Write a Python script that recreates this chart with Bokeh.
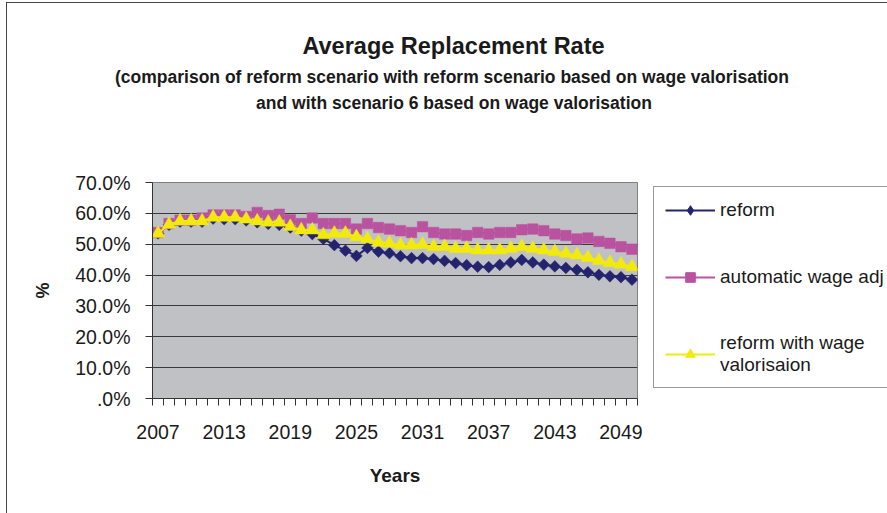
from bokeh.plotting import figure
from bokeh.models import Range1d, FixedTicker, Legend, LegendItem, Label
from bokeh.layouts import column, row
from bokeh.embed import file_html
from bokeh.resources import INLINE
import numpy as np

# ---- data (percent) ----
years = [2007, 2008, 2009, 2010, 2011, 2012, 2013, 2014, 2015, 2016, 2017,
         2018, 2019, 2020, 2021, 2022, 2023, 2024, 2025, 2026, 2027, 2028,
         2029, 2030, 2031, 2032, 2033, 2034, 2035, 2036, 2037, 2038, 2039,
         2040, 2041, 2042, 2043, 2044, 2045, 2046, 2047, 2048, 2049, 2050]

reform = [53.5, 56.3, 57.3, 57.3, 57.3, 58.3, 58.1, 58.1, 57.7, 57.1, 56.6,
          56.3, 55.4, 54.4, 53.3, 51.7, 49.7, 47.9, 46.2, 48.8, 47.6, 47.1,
          46.1, 45.5, 45.5, 45.2, 44.6, 43.9, 43.2, 42.7, 42.6, 43.3, 44.1,
          44.9, 44.1, 43.4, 42.8, 42.3, 41.7, 40.9, 40.1, 39.6, 39.3, 38.5]

automatic_wage_adj = [53.8, 56.7, 57.8, 57.8, 58.5, 59.5, 59.5, 59.5, 59.0, 60.3, 59.3,
                      59.7, 57.9, 56.7, 58.5, 56.7, 56.7, 56.7, 54.9, 56.7, 55.4, 54.9,
                      54.4, 53.8, 55.7, 53.8, 53.3, 53.3, 52.8, 53.8, 53.3, 53.8, 53.8,
                      54.7, 54.9, 54.4, 53.3, 52.8, 51.7, 52.0, 50.9, 50.3, 49.2, 48.4]

reform_wage_valorisation = [53.5, 56.4, 57.5, 57.5, 57.5, 58.7, 58.7, 58.7, 58.1, 57.5, 57.1,
                            57.1, 55.7, 54.6, 54.6, 53.0, 53.5, 53.5, 52.4, 51.7, 50.6, 50.3,
                            49.7, 49.7, 49.9, 49.2, 49.2, 48.6, 48.6, 48.1, 48.1, 48.1, 48.6,
                            49.2, 48.6, 48.1, 47.6, 47.0, 46.5, 45.7, 44.7, 44.0, 43.5, 42.7]

series_labels = ["reform", "automatic wage adj", "reform with wage\nvalorisaion"]

y_ticks = [0, 10, 20, 30, 40, 50, 60, 70]
y_tick_labels = [".0%", "10.0%", "20.0%", "30.0%", "40.0%", "50.0%", "60.0%", "70.0%"]
x_tick_years = [2007, 2013, 2019, 2025, 2031, 2037, 2043, 2049]
x_tick_labels = ["2007", "2013", "2019", "2025", "2031", "2037", "2043", "2049"]

title_text = "Average Replacement Rate"
subtitle_1 = "(comparison of reform scenario with reform scenario based on wage valorisation"
subtitle_2 = "and with scenario 6 based on wage valorisation"

# ---- styles ----
NAVY = "#24246e"
MAGENTA = "#b9529f"
YELLOW = "#f2ea0c"
TXT = "#1a1a1a"
FONT = "Liberation Sans"

TOTAL_W = 880
TITLE_H = 120
MAIN_W, MAIN_H = 645, 390
LEG_W = TOTAL_W - MAIN_W

# ---------------- title strip ----------------
pt = figure(width=TOTAL_W, height=TITLE_H, output_backend="svg", toolbar_location=None,
            x_range=Range1d(0, TOTAL_W), y_range=Range1d(TITLE_H, 0),
            x_axis_type=None, y_axis_type=None, min_border=0)
pt.title.visible = False
pt.outline_line_color = None
pt.xgrid.visible = False
pt.ygrid.visible = False
pt.background_fill_color = "white"
pt.border_fill_color = "white"
for txt, cx, cy, size in [(title_text, 446, 42, "23.5px"),
                          (subtitle_1, 444.5, 73.3, "17.5px"),
                          (subtitle_2, 446.5, 99, "17.5px")]:
    pt.add_layout(Label(x=cx, y=cy, text=txt, text_align="center", text_baseline="middle",
                        text_font=FONT, text_font_style="bold", text_font_size=size,
                        text_color=TXT))

# ---------------- main chart ----------------
p = figure(width=MAIN_W, height=MAIN_H, output_backend="svg", toolbar_location=None,
           x_range=Range1d(years[0] - 0.5, years[-1] + 0.5),
           y_range=Range1d(y_ticks[0], y_ticks[-1]),
           min_border_left=145, min_border_right=15,
           min_border_top=59, min_border_bottom=115)
p.title.visible = False
p.background_fill_color = "#c0c1c5"
p.border_fill_color = "white"
p.outline_line_color = "#808080"
p.outline_line_width = 1
p.xgrid.visible = False
p.ygrid.grid_line_color = "#3a3a3a"
p.ygrid.grid_line_width = 1

ya = p.yaxis[0]
ya.ticker = FixedTicker(ticks=y_ticks)
ya.major_label_overrides = dict(zip(y_ticks, y_tick_labels))
ya.major_tick_out = 7
ya.major_tick_in = 0
ya.minor_tick_out = 0
ya.minor_tick_in = 0
ya.axis_line_color = "#333333"
ya.major_tick_line_color = "#333333"
ya.major_label_text_font = FONT
ya.major_label_text_font_size = "19.5px"
ya.major_label_text_color = TXT
ya.major_label_standoff = 15
ya.axis_label = "%"
ya.axis_label_text_font = FONT
ya.axis_label_text_font_style = "bold"
ya.axis_label_text_font_size = "18px"
ya.axis_label_text_color = TXT
ya.axis_label_standoff = 19

xa = p.xaxis[0]
boundaries = [y - 0.5 for y in years] + [years[-1] + 0.5]
xa.ticker = FixedTicker(ticks=x_tick_years, minor_ticks=boundaries)
xa.major_label_overrides = dict(zip(x_tick_years, x_tick_labels))
xa.major_tick_out = 0
xa.major_tick_in = 0
xa.minor_tick_out = 7
xa.minor_tick_in = 0
xa.axis_line_color = "#333333"
xa.minor_tick_line_color = "#333333"
xa.major_label_text_font = FONT
xa.major_label_text_font_size = "19.5px"
xa.major_label_text_color = TXT
xa.major_label_standoff = 19
xa.axis_label = "Years"
xa.axis_label_text_font = FONT
xa.axis_label_text_font_style = "bold"
xa.axis_label_text_font_size = "19px"
xa.axis_label_text_color = TXT
xa.axis_label_standoff = 23

series = [reform, automatic_wage_adj, reform_wage_valorisation]
colors = [NAVY, MAGENTA, YELLOW]

p.line(years, reform, line_color=NAVY, line_width=2)
p.scatter(years, reform, marker="square", angle=np.pi / 4, size=8.3,
          fill_color=NAVY, line_color=NAVY, line_width=0.5)
p.line(years, automatic_wage_adj, line_color=MAGENTA, line_width=2)
p.scatter(years, automatic_wage_adj, marker="square", size=10.5,
          fill_color=MAGENTA, line_color=MAGENTA, line_width=0.5)
p.line(years, reform_wage_valorisation, line_color=YELLOW, line_width=2)
p.scatter(years, reform_wage_valorisation, marker="triangle", size=13.5,
          fill_color=YELLOW, line_color=YELLOW, line_width=0.5)

# ---------------- legend panel ----------------
# The same series are drawn here too, but outside this panel's visible range,
# so only their legend samples show.
pl = figure(width=LEG_W, height=MAIN_H, output_backend="svg", toolbar_location=None,
            x_range=Range1d(0, 1), y_range=Range1d(0, 1),
            x_axis_type=None, y_axis_type=None, min_border=0)
pl.title.visible = False
pl.outline_line_color = None
pl.xgrid.visible = False
pl.ygrid.visible = False
pl.background_fill_color = "white"
pl.border_fill_color = "white"

markers = [("diamond", 11), ("square", 9), ("triangle", 10)]
items = []
for lab, vals, col, (mk, sz) in zip(series_labels, series, colors, markers):
    lr = pl.line(years, vals, line_color=col, line_width=2)
    sr = pl.scatter(years, vals, marker=mk, size=sz, fill_color=col, line_color=col)
    items.append(LegendItem(label=lab, renderers=[lr, sr]))

legend = Legend(items=items, location=(1, 10.5), orientation="vertical")
legend.border_line_color = "#333333"
legend.border_line_width = 1
legend.background_fill_color = "white"
legend.background_fill_alpha = 1
legend.padding = 11
legend.margin = 0
legend.spacing = 43
legend.glyph_width = 50
legend.glyph_height = 24
legend.label_standoff = 5
legend.label_height = 20
legend.label_text_font = FONT
legend.label_text_font_size = "19px"
legend.label_text_color = TXT
pl.add_layout(legend)

layout = column(pt, row(p, pl))
layout.styles = {"margin-top": "2px", "margin-left": "6px",
                 "border-top": "1px solid #444", "border-left": "1px solid #444"}

open("out.html", "w").write(file_html(layout, INLINE))
